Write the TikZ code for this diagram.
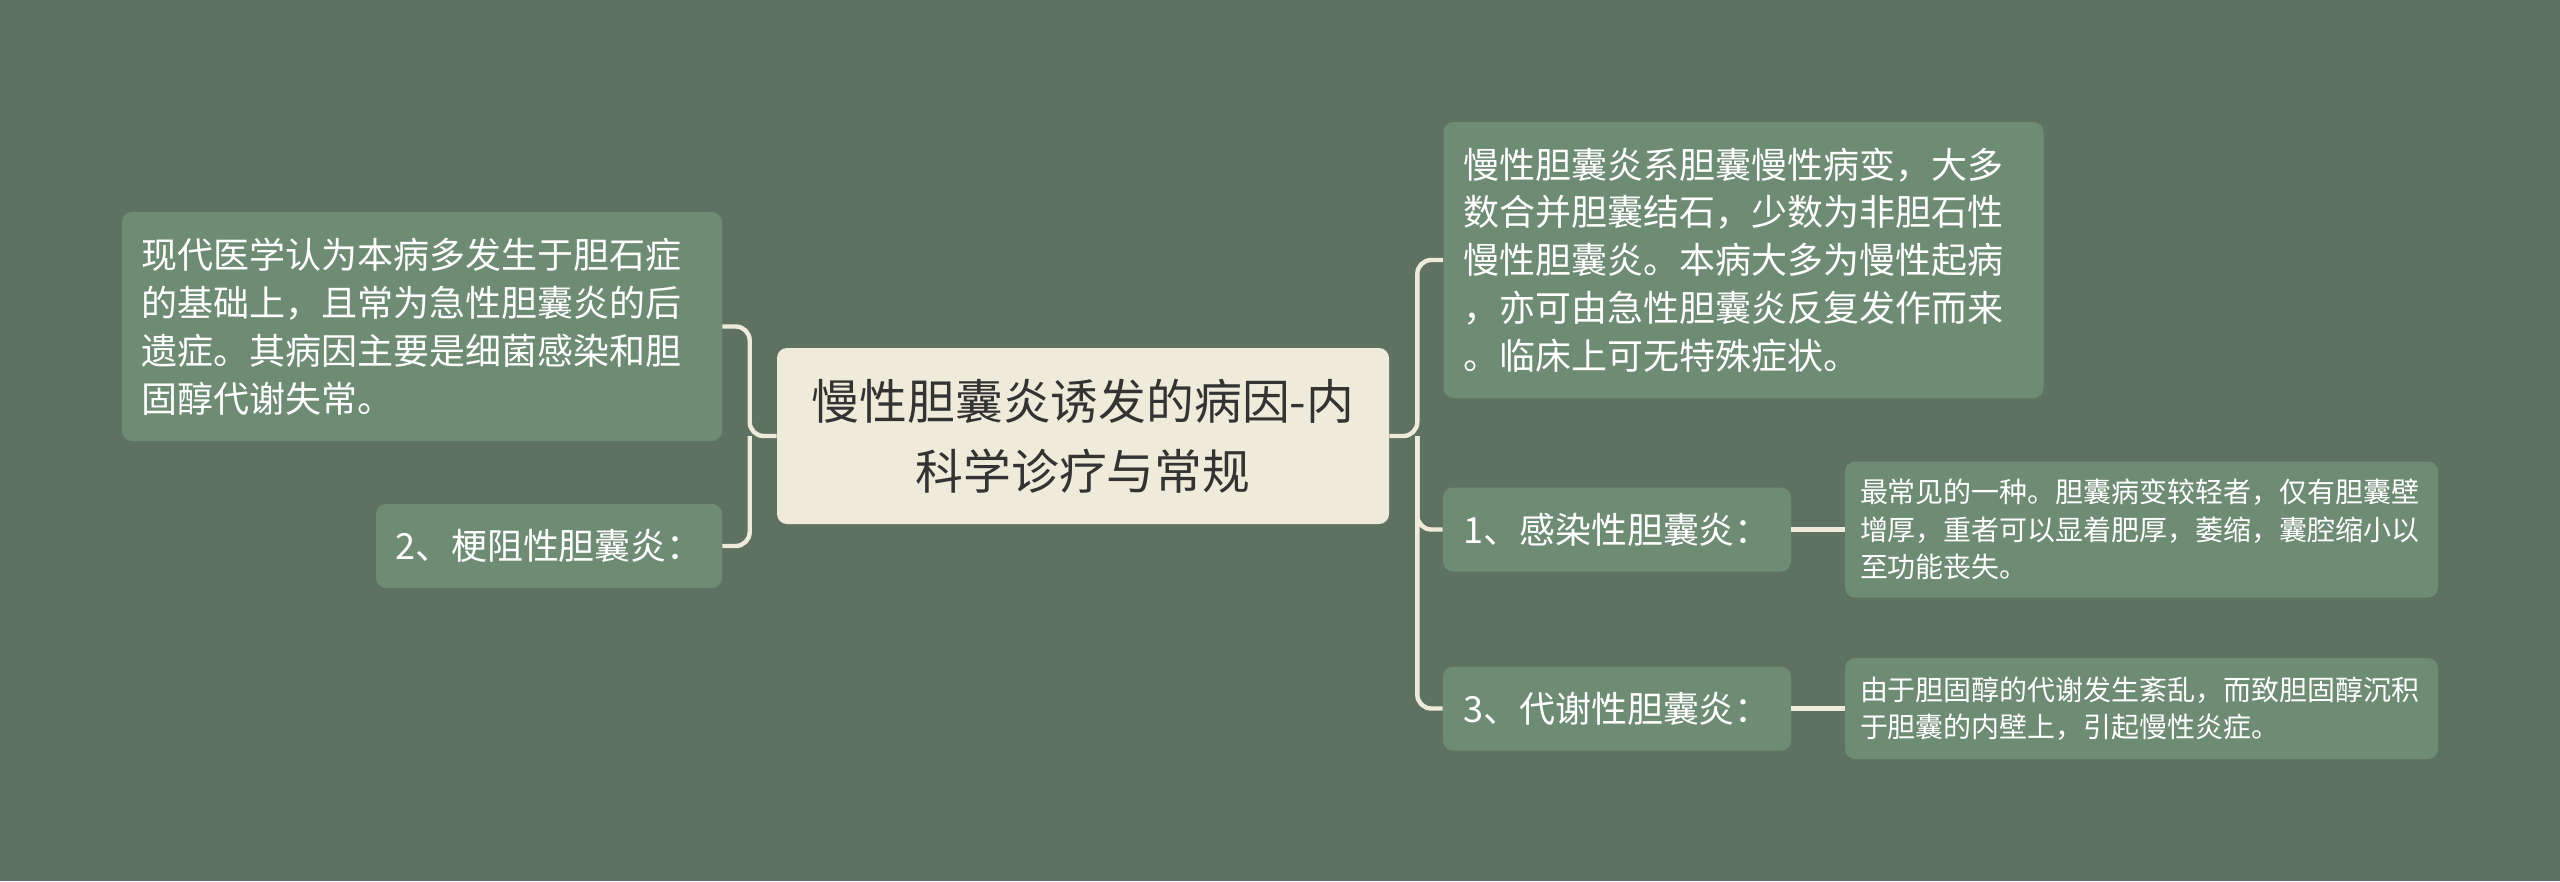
\documentclass[tikz,border=0pt]{standalone}
\usepackage{fontspec}
\setmainfont{Noto Sans CJK SC}
\definecolor{bgcol}{HTML}{5F7262}
\definecolor{boxcol}{HTML}{6E8B74}
\definecolor{rootcol}{HTML}{EFEBDA}
\definecolor{linecol}{HTML}{EFEBDA}

\begin{document}
\begin{tikzpicture}[x=0.25mm,y=-0.25mm,
    box/.style={fill=boxcol, rounded corners=2.5mm, text=white, inner ysep=0pt},
    para/.style={box, align=left, inner xsep=5mm, text width=140mm,
      minimum width=150mm, font=\fontsize{25.6}{34}\selectfont},
    label/.style={box, minimum width=87mm, minimum height=21mm,
      font=\fontsize{25.6}{34}\selectfont},
    detail/.style={box, align=left, inner xsep=3.75mm, text width=140.75mm,
      minimum width=148.25mm, font=\fontsize{19.9}{26.7}\selectfont},
    link/.style={draw=linecol, line width=1.1mm, rounded corners=3.5mm}]
  \fill[bgcol] (0,0) rectangle (2560,881);
  \useasboundingbox (0,0) rectangle (2560,881);

  \node[fill=rootcol, rounded corners=2.5mm, text=black!80, align=center,
    minimum width=153mm, minimum height=44mm,
    font=\fontsize{34}{49.8}\selectfont] (root) at (1083,436)
    {慢性胆囊炎诱发的病因-内\\科学诊疗与常规};

  \node[para, minimum height=57.25mm] (cause) at (422,326.5)
    {现代医学认为本病多发生于胆石症\\的基础上，且常为急性胆囊炎的后\\遗症。其病因主要是细菌感染和胆\\固醇代谢失常。};
  \node[label, minimum width=86.5mm] (obst) at (549,546) {2、梗阻性胆囊炎：};

  \node[para, minimum height=69mm] (intro) at (1743.5,260)
    {慢性胆囊炎系胆囊慢性病变，大多\\数合并胆囊结石，少数为非胆石性\\慢性胆囊炎。本病大多为慢性起病\\，亦可由急性胆囊炎反复发作而来\\。临床上可无特殊症状。};
  \node[label] (infect) at (1617,529.5) {1、感染性胆囊炎：};
  \node[label] (metab) at (1617,708.5) {3、代谢性胆囊炎：};

  \node[detail, minimum height=34mm] (infectd) at (2141.5,529.5)
    {最常见的一种。胆囊病变较轻者，仅有胆囊壁\\增厚，重者可以显着肥厚，萎缩，囊腔缩小以\\至功能丧失。};
  \node[detail, minimum height=25.25mm] (metabd) at (2141.5,708.5)
    {由于胆固醇的代谢发生紊乱，而致胆固醇沉积\\于胆囊的内壁上，引起慢性炎症。};

  \draw[link] (root.west) -- ++(-27,0) coordinate (lfork) |- (cause.east);
  \draw[link] (lfork) |- (obst.east);
  \draw[link] (root.east) -- ++(28,0) coordinate (rfork) |- (intro.west);
  \draw[link] (rfork) |- (infect.west);
  \draw[link] (rfork) |- (metab.west);
  \draw[link] (infect.east) -- (infectd.west);
  \draw[link] (metab.east) -- (metabd.west);
\end{tikzpicture}
\end{document}
